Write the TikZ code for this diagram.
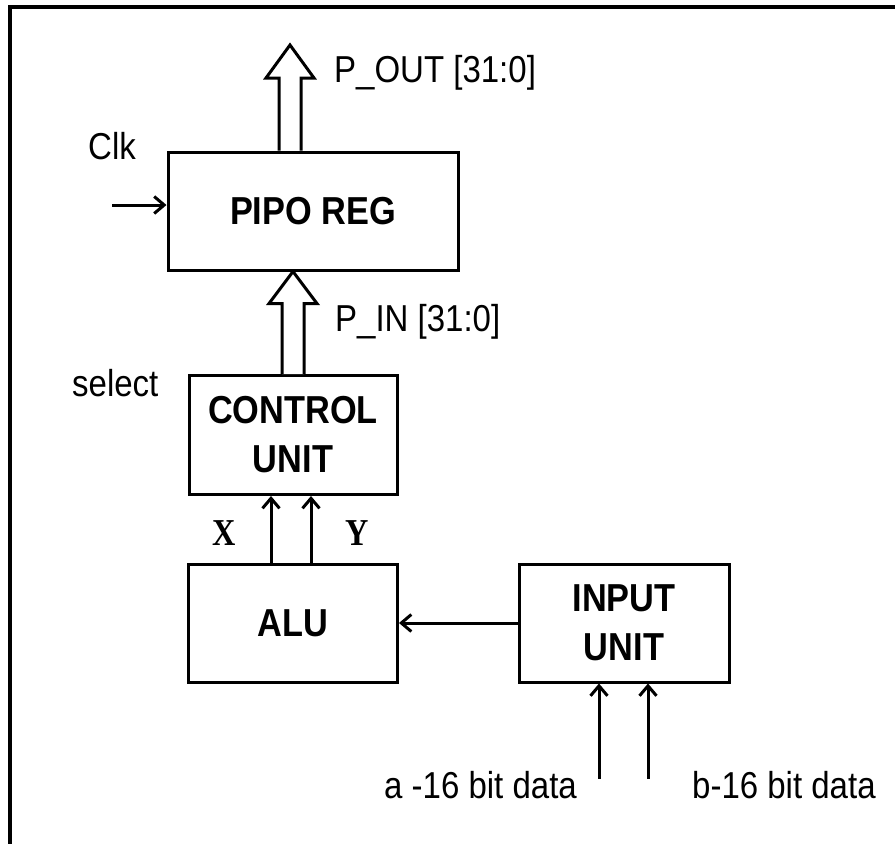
\documentclass[tikz,border=0pt]{standalone}
\usepackage{fontspec}
\setmainfont{Liberation Sans}[FakeStretch=0.88]
\newfontfamily\xyfont{Liberation Serif}[FakeStretch=0.85]
\usetikzlibrary{arrows.meta,calc}
\tikzset{
  blk/.style={draw, line width=3pt, rectangle, align=center, inner sep=0pt,
    font=\fontsize{39}{49}\selectfont\bfseries},
  lbl/.style={inner sep=0pt, font=\fontsize{37.5}{40}\selectfont},
  xylbl/.style={inner sep=0pt, font=\fontsize{38}{40}\selectfont\xyfont\bfseries},
  sig/.style={line width=3pt, -{Straight Barb[length=10pt,width=17pt,line width=3pt]}},
  bus/.style={draw, fill=white, line width=3pt, line join=miter}
}
\begin{document}
\begin{tikzpicture}[x=1pt,y=-1pt]
\useasboundingbox (0,0) rectangle (895,844);
\draw[line width=4pt] (10,844) -- (10,7) -- (895,7);
% blocks
\node[blk, minimum width=290, minimum height=118] (pipo) at (313,211) {PIPO REG};
\node[blk, minimum width=208, minimum height=119] (ctrl) at (293,435) {CONTROL\\UNIT};
\node[blk, minimum width=209, minimum height=118] (alu) at (293,623) {ALU};
\node[blk, minimum width=210, minimum height=118] (inp) at (624,623) {INPUT\\UNIT};
% labels
\node[lbl, anchor=base west] (pout) at (334,82) {P\_OUT [31:0]};
\node[lbl, anchor=base west] (pin) at (335,331) {P\_IN [31:0]};
\node[lbl, anchor=base west] (clk) at (88,159) {Clk};
\node[lbl, anchor=base west] (sel) at (72,396) {select};
\node[lbl, anchor=base west] (dataa) at (384,798) {a -16 bit data};
\node[lbl, anchor=base west] (datab) at (692,798) {b-16 bit data};
\node[xylbl, anchor=base] (xl) at (224,545) {X};
\node[xylbl, anchor=base] (yl) at (357,545) {Y};
% wide buses
\coordinate (pinT) at (ctrl.north |- pipo.south);
\draw[bus] ($(ctrl.north)+(-11,0)$) -- ($(pinT)+(-11,32)$) -- ($(pinT)+(-24,32)$) -- (pinT)
  -- ($(pinT)+(24,32)$) -- ($(pinT)+(11,32)$) -- ($(ctrl.north)+(11,0)$);
\coordinate (poutT) at (290,45);
\coordinate (poutB) at (poutT |- pipo.north);
\draw[bus] ($(poutB)+(-11,0)$) -- ($(poutT)+(-11,33)$) -- ($(poutT)+(-24,33)$) -- (poutT)
  -- ($(poutT)+(24,33)$) -- ($(poutT)+(11,33)$) -- ($(poutB)+(11,0)$);
% signals
\coordinate (clkin) at (112,205);
\draw[sig] (clkin) -- (clkin -| pipo.west);
\foreach \dx in {-22,18}
  \draw[sig] ($(alu.north)+(\dx,0)$) -- ($(ctrl.south)+(\dx,0)$);
\draw[sig] (inp.west) -- (alu.east);
\foreach \dx in {-25,24}
  \draw[sig] ($(inp.south)+(\dx,95)$) -- ($(inp.south)+(\dx,0)$);
\end{tikzpicture}
\end{document}
